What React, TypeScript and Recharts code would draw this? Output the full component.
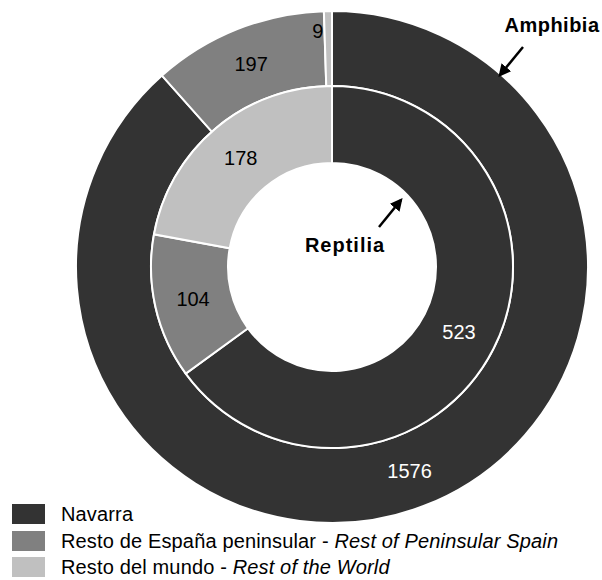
import React from 'react';
import { PieChart, Pie, Cell } from 'recharts';

const categories = ['Navarra', 'Resto de España peninsular', 'Resto del mundo'];
const categoriesEn = ['', 'Rest of Peninsular Spain', 'Rest of the World'];
const amphibia = [1576, 197, 9];
const reptilia = [523, 104, 178];
const colors = ['#333333', '#808080', '#c0c0c0'];

const FONT = '"Liberation Sans", Arial, sans-serif';
const RAD = Math.PI / 180;

const amphibiaData = categories.map((name, i) => ({ name, value: amphibia[i] }));
const reptiliaData = categories.map((name, i) => ({ name, value: reptilia[i] }));

// value labels sit on the middle of each slice; tiny slices get pushed outward
const renderLabel = (props: any) => {
  const { cx, cy, midAngle, innerRadius, outerRadius, percent, value, index } = props;
  const small = percent < 0.02;
  const r = small ? outerRadius - 20 : (innerRadius + outerRadius) / 2;
  const x = cx + r * Math.cos(-midAngle * RAD);
  const y = cy + r * Math.sin(-midAngle * RAD);
  return (
    <text
      x={x}
      y={y}
      dx={small ? -5 : 0}
      textAnchor={small ? 'end' : 'middle'}
      dominantBaseline="central"
      fill={index === 0 ? '#ffffff' : '#000000'}
      fontFamily={FONT}
      fontSize={20}
    >
      {value}
    </text>
  );
};

const Arrow: React.FC<{ x1: number; y1: number; x2: number; y2: number }> = ({ x1, y1, x2, y2 }) => (
  <line x1={x1} y1={y1} x2={x2} y2={y2} stroke="#000" strokeWidth={2.5} markerEnd="url(#arrowHead)" />
);

const App: React.FC = () => {
  return (
    <div style={{ position: 'absolute', left: 0, top: 0, width: 602, height: 580, background: '#fff', overflow: 'hidden' }}>
      <PieChart width={602} height={580} margin={{ top: 0, right: 0, bottom: 0, left: 0 }}>
        <Pie
          data={amphibiaData}
          dataKey="value"
          cx={332}
          cy={267}
          innerRadius={181}
          outerRadius={256}
          startAngle={90}
          endAngle={-270}
          stroke="#ffffff"
          strokeWidth={2}
          label={renderLabel}
          labelLine={false}
          isAnimationActive={false}
        >
          {amphibiaData.map((d, i) => (
            <Cell key={`a-${i}`} fill={colors[i]} />
          ))}
        </Pie>
        <Pie
          data={reptiliaData}
          dataKey="value"
          cx={332}
          cy={267}
          innerRadius={104}
          outerRadius={181}
          startAngle={90}
          endAngle={-270}
          stroke="#ffffff"
          strokeWidth={2}
          label={renderLabel}
          labelLine={false}
          isAnimationActive={false}
        >
          {reptiliaData.map((d, i) => (
            <Cell key={`r-${i}`} fill={colors[i]} />
          ))}
        </Pie>
      </PieChart>

      {/* annotations */}
      <svg width={602} height={580} style={{ position: 'absolute', left: 0, top: 0, pointerEvents: 'none' }}>
        <defs>
          <marker id="arrowHead" viewBox="0 0 10 10" refX="8" refY="5" markerWidth="5" markerHeight="5" orient="auto">
            <path d="M0,0 L10,5 L0,10 z" fill="#000" />
          </marker>
        </defs>
        <text x={552} y={32} textAnchor="middle" fontFamily={FONT} fontWeight="bold" fontSize={20} letterSpacing={0.5}>
          Amphibia
        </text>
        <Arrow x1={523} y1={47} x2={500} y2={75} />
        <text x={345} y={252} textAnchor="middle" fontFamily={FONT} fontWeight="bold" fontSize={20} letterSpacing={1}>
          Reptilia
        </text>
        <Arrow x1={379} y1={227} x2={401} y2={200} />
      </svg>

      {/* legend */}
      <div style={{ position: 'absolute', left: 12, top: 501, fontFamily: FONT, fontSize: 20, letterSpacing: 0.15 }}>
        {categories.map((name, i) => (
          <div key={name} style={{ display: 'flex', alignItems: 'center', height: 26.5 }}>
            <span style={{ display: 'inline-block', width: 33, height: 20, background: colors[i], marginRight: 16 }} />
            <span style={{ whiteSpace: 'nowrap', color: '#000', lineHeight: '18px' }}>
              {name}
              {categoriesEn[i] && (
                <>
                  {' - '}
                  <i>{categoriesEn[i]}</i>
                </>
              )}
            </span>
          </div>
        ))}
      </div>
    </div>
  );
};

export default App;
